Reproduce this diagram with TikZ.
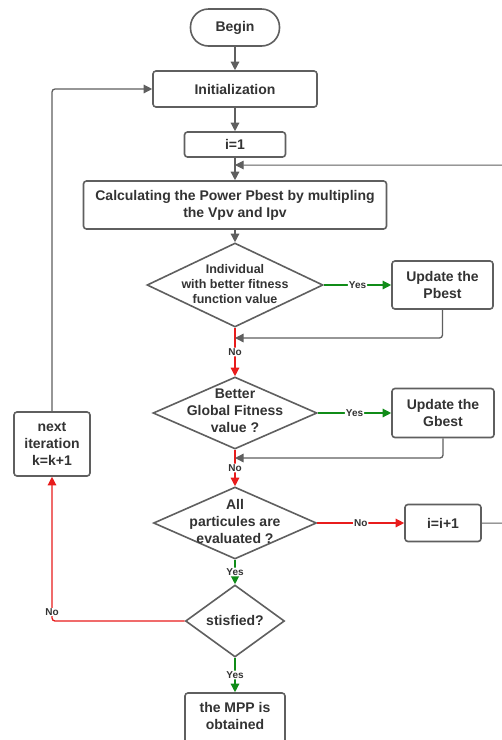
\documentclass[tikz,border=0pt]{standalone}
\usepackage{fontspec}
\setmainfont{Liberation Sans}
\usetikzlibrary{arrows.meta,shapes.geometric}
\definecolor{txt}{RGB}{51,51,51}
\definecolor{ln}{RGB}{95,95,95}
\definecolor{rd}{RGB}{232,28,28}
\definecolor{gn}{RGB}{16,140,24}
\begin{document}
\begin{tikzpicture}[x=1pt,y=-1pt,
  box/.style={draw=ln,line width=1.6pt,rounded corners=3pt,text=txt,
    font=\bfseries\fontsize{14}{17}\selectfont,align=center,inner sep=0pt},
  dia/.style={draw=ln,line width=1.6pt,diamond,inner sep=0pt},
  dtxt/.style={text=txt,font=\bfseries\fontsize{14}{17}\selectfont,align=center,inner sep=0pt},
  con/.style={draw=ln,line width=1.3pt,rounded corners=3pt,-{Triangle[length=8.5pt,width=8.5pt]}},
  conr/.style={con,draw=rd,-{Triangle[length=8.5pt,width=8.5pt,fill=rd]}},
  cong/.style={con,draw=gn,-{Triangle[length=8.5pt,width=8.5pt,fill=gn]}},
  lab/.style={fill=white,inner sep=1pt,text=txt,font=\bfseries\fontsize{10}{12}\selectfont}
]
\useasboundingbox (0,0) rectangle (502,740);
\clip (0,0) rectangle (502,740);
\fill[white] (0,0) rectangle (502,740);

% nodes
\node[box,rounded corners=18pt,minimum width=89pt,minimum height=37pt] (begin) at (235,27.5) {Begin};
\node[box,minimum width=164pt,minimum height=36pt] (init) at (235,89) {Initialization};
\node[box,minimum width=101pt,minimum height=25pt] (i1) at (235,144.5) {i=1};
\node[box,minimum width=303pt,minimum height=48pt] (calc) at (235,205) {Calculating the Power Pbest by multipling\\the Vpv and Ipv};
\node[dia,minimum width=176pt,minimum height=84pt] (d1) at (235,285) {};
\node[dtxt,font=\bfseries\fontsize{12.5}{14.7}\selectfont] (d1t) at (235,284) {Individual\\with better fitness\\function value};
\node[box,minimum width=101pt,minimum height=48pt] (pb) at (442.5,285) {Update the\\Pbest};
\node[dia,minimum width=164pt,minimum height=72pt] (d2) at (235,413) {};
\node[dtxt] (d2t) at (235,411) {Better\\Global Fitness\\value ?};
\node[box,minimum width=102pt,minimum height=49pt] (gb) at (443,413) {Update the\\Gbest};
\node[dia,minimum width=163pt,minimum height=72pt] (d3) at (235,523) {};
\node[dtxt] (d3t) at (235,521) {All\\particules are\\evaluated ?};
\node[box,minimum width=76pt,minimum height=37pt] (iinc) at (443,523) {i=i+1};
\node[dia,minimum width=99pt,minimum height=72pt] (d4) at (235,621) {};
\node[dtxt] (d4t) at (235,620) {stisfied?};
\node[box,minimum width=76pt,minimum height=64pt] (nxt) at (52,444) {next\\iteration\\k=k+1};
\node[box,minimum width=100pt,minimum height=56pt] (mpp) at (235,721) {};
\node[dtxt] (mppt) at (235,716) {the MPP is\\obtained};

% coordinates
\coordinate (m0) at (235,165);
\coordinate (r1) at (510,523);
\coordinate (r2) at (510,165);
\coordinate (m1) at (235,338);
\coordinate (m2) at (235,458);

% connectors
\draw[con] (begin) -- (init);
\draw[con] (init) -- (i1);
\draw[con] (i1) -- (calc);
\draw[con,line width=1pt] (iinc.east) -- (r1) -- (r2) -- (m0);
\draw[con] (calc) -- (d1.north);
\draw[cong] (d1.east) -- node[lab] (y1) {Yes} (pb.west);
\draw[conr] (d1.south) -- node[lab] (n1) {No} (d2.north);
\draw[con] (pb.south) |- (m1);
\draw[cong] (d2.east) -- node[lab] (y2) {Yes} (gb.west);
\draw[conr] (d2.south) -- node[lab] (n2) {No} (d3.north);
\draw[con] (gb.south) |- (m2);
\draw[conr] (d3.east) -- node[lab] (n3) {No} (iinc.west);
\draw[cong] (d3.south) -- node[lab] (y3) {Yes} (d4.north);
\draw[cong] (d4.south) -- node[lab] (y4) {Yes} (mpp.north);
\draw[conr] (d4.west) -| (nxt.south);
\node[lab] (n4) at (52,612) {No};
\draw[con] (nxt.north) |- (init.west);
\end{tikzpicture}
\end{document}
